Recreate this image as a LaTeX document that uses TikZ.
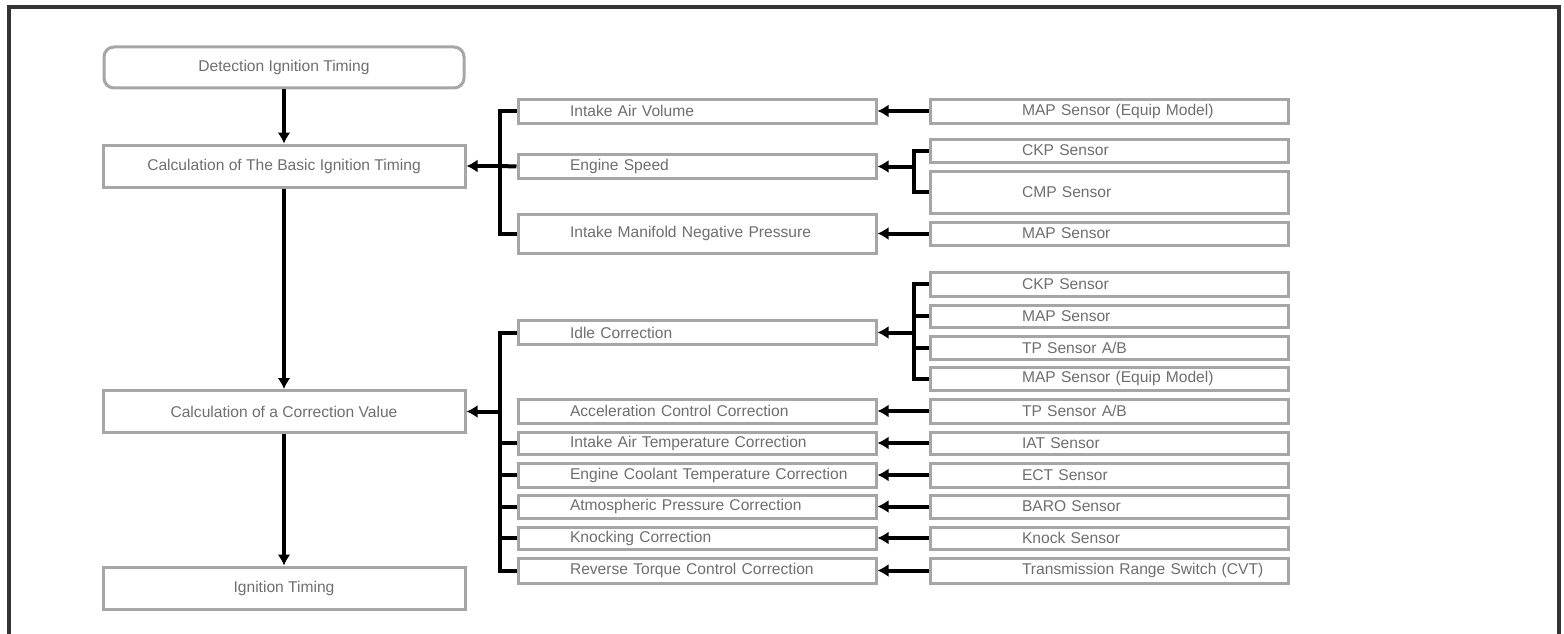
\documentclass[tikz,border=0pt]{standalone}
\usepackage{fontspec}
\setmainfont{Liberation Sans}
\usepackage{tikz}
\usetikzlibrary{calc,positioning,arrows.meta}
\definecolor{boxgray}{HTML}{A6A6A6}
\definecolor{textgray}{HTML}{6E6E6E}
\definecolor{framegray}{HTML}{333333}
\newcommand{\chartfont}{\fontsize{15.6}{17}\selectfont}
\tikzset{
    stagebox/.style={draw=boxgray, line width=3pt, minimum width=362pt, minimum height=42pt, inner sep=0pt, text=textgray, font=\chartfont},
    startbox/.style={stagebox, minimum width=360pt, minimum height=41pt, rounded corners=10pt},
    rowbox/.style={draw=boxgray, line width=3pt, text width=358pt, inner xsep=0pt, inner ysep=0pt, align=left, minimum height=24pt, text=textgray, font=\chartfont},
    midbox/.style={rowbox, execute at begin node={\hspace*{52pt}}},
    senbox/.style={rowbox, execute at begin node={\hspace*{92pt}}},
    link/.style={line width=4pt, draw=black},
    feed/.style={link, -{Latex[length=11pt,width=13pt]}},
    node distance=51pt
}
\begin{document}
\begin{tikzpicture}[x=1pt,y=-1pt]
	\useasboundingbox (0,0) rectangle (1564,634);
	\draw[line width=4pt, draw=framegray] (9,634) |- (1559,7) -- (1559,634);

	% main column
	\node[startbox] (detect) at (284,67.5) {Detection Ignition Timing};
	\node[stagebox] (basic) at (284,166) {Calculation of The Basic Ignition Timing};
	\node[stagebox] (corr) at (284,411.5) {Calculation of a Correction Value};
	\node[stagebox] (ign) at (284,588) {Ignition Timing};

	% basic timing inputs
	\node[midbox] (iav) at (697,111) {Intake Air Volume};
	\node[midbox] (es) at (697,166.5) {Engine Speed};
	\node[midbox, minimum height=39pt] (imp) at (697,233.5) {Intake Manifold Negative Pressure};
	\node[senbox, right = of iav] (mapeq) {MAP Sensor (Equip Model)};
	\node[senbox, minimum height=23pt] (ckp) at (1109,150.5) {CKP Sensor};
	\node[senbox, minimum height=42pt] (cmp) at (1109,192) {CMP Sensor};
	\node[senbox, minimum height=23pt, right = of imp] (map) {MAP Sensor};

	% correction inputs
	\node[midbox] (idle) at (697,332.5) {Idle Correction};
	\node[midbox] (acc) at (697,411) {Acceleration Control Correction};
	\node[midbox, minimum height=22pt] (iatc) at (697,443) {Intake Air Temperature Correction};
	\node[midbox] (ectc) at (697,475) {Engine Coolant Temperature Correction};
	\node[midbox, minimum height=23pt] (atm) at (697,506.5) {Atmospheric Pressure Correction};
	\node[midbox, minimum height=22pt] (knk) at (697,538) {Knocking Correction};
	\node[midbox, minimum height=25pt] (rtc) at (697,570.5) {Reverse Torque Control Correction};

	\node[senbox] (ckp2) at (1109,284) {CKP Sensor};
	\node[senbox, minimum height=22pt] (map2) at (1109,316) {MAP Sensor};
	\node[senbox, minimum height=23pt] (tp) at (1109,347.5) {TP Sensor A/B};
	\node[senbox, minimum height=23pt] (mapeq2) at (1109,378.5) {MAP Sensor (Equip Model)};
	\node[senbox, right = of acc] (tp2) {TP Sensor A/B};
	\node[senbox, minimum height=22pt, right = of iatc] (iat) {IAT Sensor};
	\node[senbox, right = of ectc] (ect) {ECT Sensor};
	\node[senbox, minimum height=23pt, right = of atm] (baro) {BARO Sensor};
	\node[senbox, minimum height=22pt, right = of knk] (knock) {Knock Sensor};
	\node[senbox, minimum height=25pt, right = of rtc] (trs) {Transmission Range Switch (CVT)};

	% junctions
	\coordinate (basj) at (500,166);
	\coordinate (esj) at ($(es.east)+(36pt,0)$);
	\coordinate (corj) at (500,411.5);
	\coordinate (idlj) at ($(idle.east)+(36pt,0)$);

	\draw (detect) edge[feed] (basic)
	      (basic) edge[feed] (corr)
	      (corr) edge[feed] (ign);

	\draw[link] (iav.west) -| (basj) |- (imp.west);
	\draw[link] (es.west) -- (basj);
	\draw[feed] (basj) -- (basic.east);
	\draw[link] (ckp.west) -| (esj) |- (cmp.west);
	\draw[feed] (esj) -- (es.east);
	\draw[feed] (mapeq) -- (iav);
	\draw[feed] (map) -- (imp);

	\draw[link] (idle.west) -| (corj) |- (rtc.west);
	\draw[link] (iatc.west) -- (iatc.west -| corj)
	            (ectc.west) -- (ectc.west -| corj)
	            (atm.west) -- (atm.west -| corj)
	            (knk.west) -- (knk.west -| corj);
	\draw[feed] (corj) -- (corr.east);
	\draw[link] (ckp2.west) -| (idlj) |- (mapeq2.west);
	\draw[link] (map2.west) -- (map2.west -| idlj)
	            (tp.west) -- (tp.west -| idlj);
	\draw[feed] (idlj) -- (idle.east);
	\draw (tp2) edge[feed] (acc)
	      (iat) edge[feed] (iatc)
	      (ect) edge[feed] (ectc)
	      (baro) edge[feed] (atm)
	      (knock) edge[feed] (knk)
	      (trs) edge[feed] (rtc);
\end{tikzpicture}
\end{document}
